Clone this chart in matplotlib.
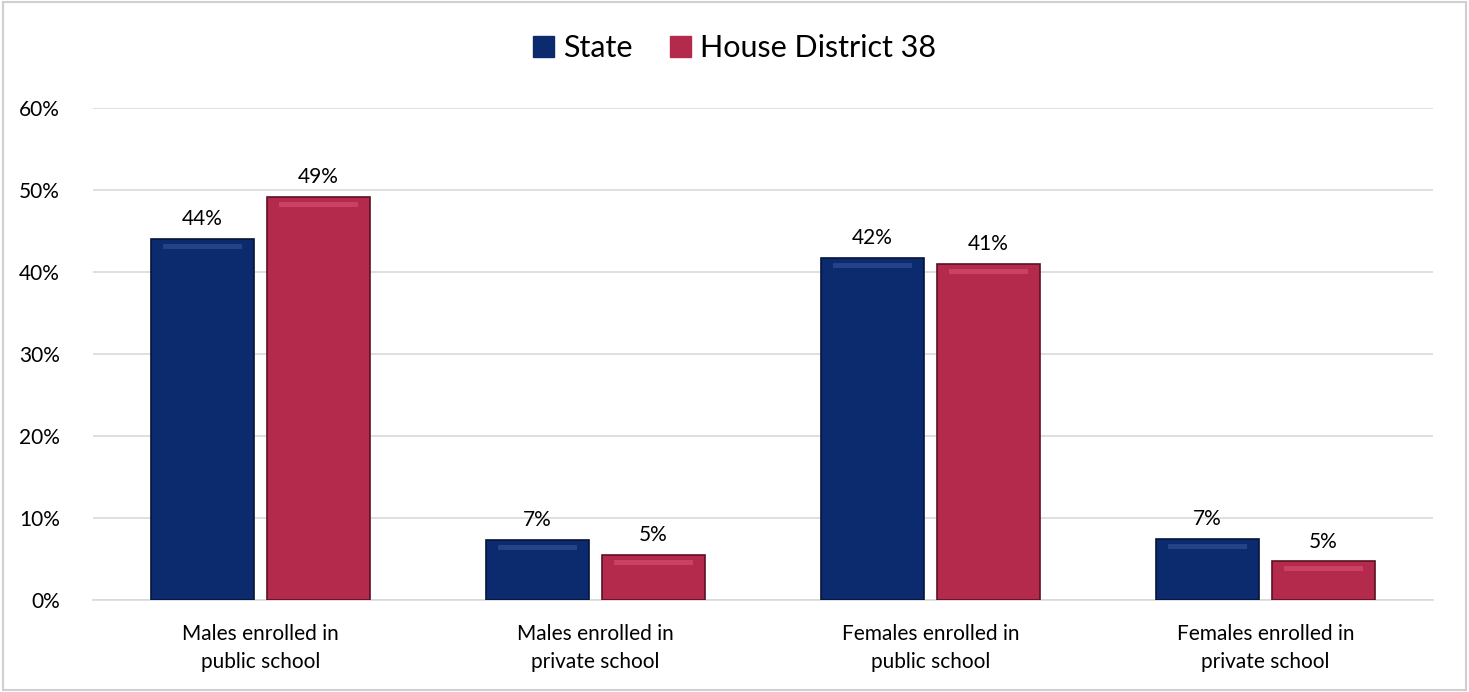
import matplotlib.pyplot as plt
import matplotlib.patches as mpatches
import numpy as np

plt.rcParams['font.family'] = ['Lato', 'DejaVu Sans']

categories = ["Males enrolled in\npublic school", "Males enrolled in\nprivate school",
              "Females enrolled in\npublic school", "Females enrolled in\nprivate school"]
state = [0.440, 0.073, 0.417, 0.074]
district = [0.491, 0.055, 0.410, 0.047]
state_labels = ["44%", "7%", "42%", "7%"]
district_labels = ["49%", "5%", "41%", "5%"]

state_color = "#0c2a6e"
district_color = "#b42a4c"

fig = plt.figure(figsize=(14.69, 6.92), dpi=100)
ax = fig.add_axes([0.0633, 0.133, 0.9122, 0.711])

x = np.arange(len(categories))
w = 0.31
off = 0.173

b1 = ax.bar(x - off, state, w, color=state_color, edgecolor="#06143a", linewidth=1.2, zorder=3)
b2 = ax.bar(x + off, district, w, color=district_color, edgecolor="#5e1024", linewidth=1.2, zorder=3)

# simple bevel highlight on top of each bar
for bars, hl in ((b1, "#3a5aa0"), (b2, "#e0587a")):
    for r in bars:
        h = r.get_height()
        ax.add_patch(mpatches.Rectangle((r.get_x() + w * 0.12, h - 0.012), w * 0.76, 0.006,
                                        color=hl, alpha=0.5, zorder=4, linewidth=0))

for r, t in zip(b1, state_labels):
    ax.text(r.get_x() + w / 2, r.get_height() + 0.012, t, ha='center', va='bottom', fontsize=15)
for r, t in zip(b2, district_labels):
    ax.text(r.get_x() + w / 2, r.get_height() + 0.012, t, ha='center', va='bottom', fontsize=15)

ax.set_xlim(-0.5, 3.5)
ax.set_ylim(0, 0.6)
ax.set_yticks(np.arange(0, 0.61, 0.1))
ax.set_yticklabels([f"{int(round(v * 100))}%" for v in np.arange(0, 0.61, 0.1)], fontsize=15)
ax.set_xticks(x)
ax.set_xticklabels(categories, fontsize=15, linespacing=1.55)
ax.tick_params(axis='x', length=0, pad=17)
ax.tick_params(axis='y', length=0, pad=24)
ax.grid(axis='y', color="#d9d9d9", linewidth=1.2, zorder=0)
for s in ("top", "right", "left"):
    ax.spines[s].set_visible(False)
ax.spines["bottom"].set_color("#d9d9d9")
ax.spines["bottom"].set_linewidth(1.2)

handles = [mpatches.Patch(color=state_color, label="State"),
           mpatches.Patch(color=district_color, label="House District 38")]
fig.legend(handles=handles, loc='center', bbox_to_anchor=(0.5, 0.93), ncol=2, frameon=False,
           fontsize=22, handlelength=0.7, handleheight=0.7, handletextpad=0.3, columnspacing=1.2)

# light border around the chart
fig.add_artist(mpatches.Rectangle((0.002, 0.003), 0.996, 0.994, transform=fig.transFigure,
                                  fill=False, edgecolor="#d0d0d0", linewidth=1.5))

fig.savefig("out.png", dpi=100)
